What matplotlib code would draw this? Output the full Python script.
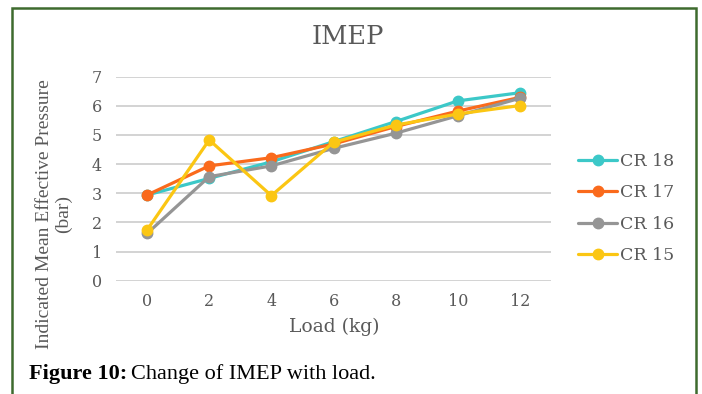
import matplotlib
matplotlib.use("Agg")
import matplotlib.pyplot as plt
from matplotlib.patches import Rectangle

# data
loads = ["0", "2", "4", "6", "8", "10", "12"]
cr18 = [2.94, 3.51, 4.08, 4.77, 5.46, 6.17, 6.45]
cr17 = [2.94, 3.94, 4.22, 4.69, 5.29, 5.82, 6.29]
cr16 = [1.62, 3.57, 3.94, 4.54, 5.06, 5.66, 6.26]
cr15 = [1.74, 4.83, 2.92, 4.75, 5.34, 5.72, 6.01]
series_names = ["CR 18", "CR 17", "CR 16", "CR 15"]
series_colors = ["#3CC8C8", "#FA6A1C", "#959595", "#FBC613"]

plt.rcParams['font.family'] = ['DejaVu Serif']
txt_col = "#595959"
W, H = 702, 394

fig = plt.figure(figsize=(W/100, H/100), dpi=100)
ax = fig.add_axes([116/W, 1-280.7/H, (551-116)/W, (280.7-76.7)/H])

x = list(range(len(loads)))
for vals, name, col in zip([cr18, cr17, cr16, cr15], series_names, series_colors):
    ax.plot(x, vals, color=col, lw=2.3, marker='o', ms=7.5, label=name,
            solid_capstyle='round')

ax.set_xlim(-0.5, len(loads)-0.5)
ax.set_ylim(0, 7)
ax.set_yticks(range(0, 8))
ax.set_xticks(x)
ax.set_xticklabels(loads)
ax.grid(axis='y', color='#D0D0D0', lw=1.3)
ax.set_axisbelow(True)
for s in ax.spines.values():
    s.set_visible(False)
ax.tick_params(axis='y', length=0, pad=10, labelsize=11.5, labelcolor=txt_col)
ax.tick_params(axis='x', length=0, pad=9, labelsize=11.5, labelcolor=txt_col)

fig.text(334/W, 1-327/H, "Load (kg)", ha='center', va='center', fontsize=13.5,
         color=txt_col)
fig.text(54/W, 1-214/H, "Indicated Mean Effective Pressure\n(bar)",
         rotation=90, ha='center', va='center', fontsize=14, color=txt_col,
         linespacing=1.1, family='Liberation Serif')
fig.text(348/W, 1-37/H, "IMEP", ha='center', va='center', fontsize=18.5,
         color=txt_col)

leg = fig.legend(*ax.get_legend_handles_labels(), loc='center left',
                 bbox_to_anchor=(578/W, 1-208.5/H), frameon=False,
                 fontsize=12.5, handlelength=2.25, handletextpad=0.17,
                 labelspacing=0.84, borderpad=0, borderaxespad=0,
                 labelcolor=txt_col)

# caption
fig.text(29/W, 1-374/H, "Figure 10:", ha='left', va='center', fontsize=16,
         fontweight='bold', color='black', family='Liberation Serif')
fig.text(131/W, 1-374/H, "Change of IMEP with load.", ha='left',
         va='center', fontsize=16, color='black', family='Liberation Serif')

# green frame
fig.patches.append(Rectangle((12/W, -0.05), (696-12)/W, 1.05 - 8/H,
                             transform=fig.transFigure, fill=False,
                             edgecolor='#3E6B2E', lw=1.8))

fig.savefig("out.png", dpi=100)
